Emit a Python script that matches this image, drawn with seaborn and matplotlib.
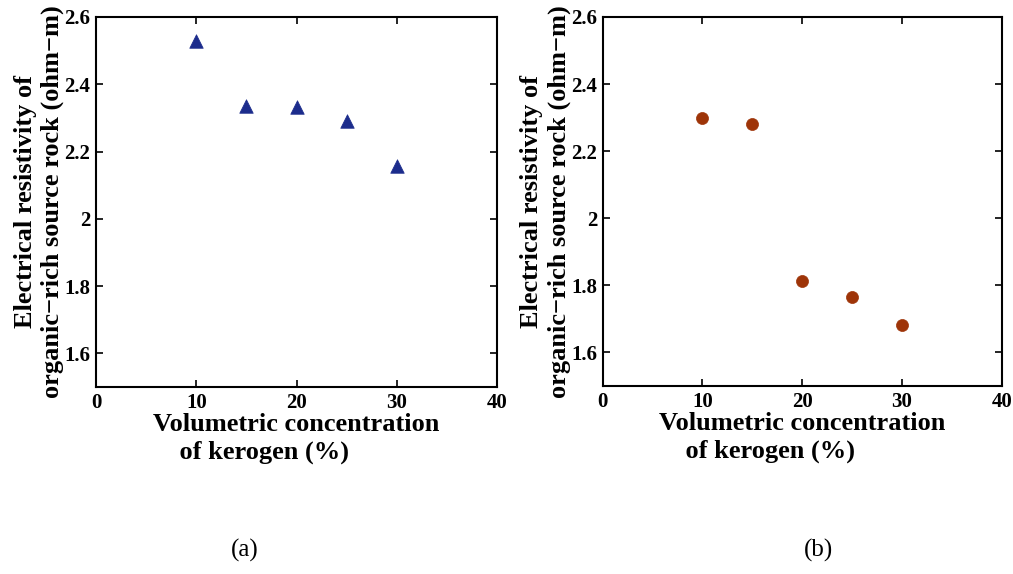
import matplotlib
matplotlib.use("Agg")
import matplotlib.pyplot as plt
import seaborn as sns
import pandas as pd

sns.set_style("white")
plt.rcParams["font.family"] = ["Liberation Serif", "DejaVu Serif"]
plt.rcParams["text.color"] = "black"
plt.rcParams["axes.labelcolor"] = "black"

# Kerogen volume fraction (%) and resistivity (ohm-m) for the two cases
kerogen_pct = [10, 15, 20, 25, 30]
resistivity_a = [2.529, 2.335, 2.331, 2.291, 2.157]
resistivity_b = [2.298, 2.281, 1.813, 1.765, 1.681]

x_ticks = [0, 10, 20, 30, 40]
y_ticks = [1.6, 1.8, 2.0, 2.2, 2.4, 2.6]
y_tick_labels = ["1.6", "1.8", "2", "2.2", "2.4", "2.6"]
panel_labels = ["(a)", "(b)"]
panel_label_x = [245, 818]

df_a = pd.DataFrame({"kerogen": kerogen_pct, "rho": resistivity_a})
df_b = pd.DataFrame({"kerogen": kerogen_pct, "rho": resistivity_b})

W, H = 1013, 574
fig = plt.figure(figsize=(W / 100, H / 100), dpi=100)
ax_a = fig.add_axes([0.0948, 0.3258, 0.3958, 0.6446])
ax_b = fig.add_axes([0.5950, 0.3275, 0.3938, 0.6429])

sns.scatterplot(data=df_a, x="kerogen", y="rho", ax=ax_a, marker="^",
                s=95, color="#1c2c8c", edgecolor="#1c2c8c", linewidth=0.5)
sns.scatterplot(data=df_b, x="kerogen", y="rho", ax=ax_b, marker="o",
                s=75, color="#9e3408", edgecolor="#9e3408", linewidth=0.5)

for ax, label, lx in zip([ax_a, ax_b], panel_labels, panel_label_x):
    ax.set_xlim(0, 40)
    ax.set_ylim(1.5, 2.6)
    ax.set_xticks(x_ticks)
    ax.set_xticklabels([str(t) for t in x_ticks], fontsize=15, fontweight="bold")
    ax.set_yticks(y_ticks)
    ax.set_yticklabels(y_tick_labels, fontsize=15, fontweight="bold")
    ax.tick_params(direction="in", length=5, width=1.2, top=True, right=True,
                   bottom=True, left=True, pad=4, colors="black")
    for sp in ax.spines.values():
        sp.set_visible(True)
        sp.set_color("black")
        sp.set_linewidth(1.5)
    ax.set_xlabel("Volumetric concentration\n    of kerogen (%)", fontsize=19,
                  fontweight="bold", multialignment="left", labelpad=0,
                  linespacing=1.3)
    ax.set_ylabel("Electrical resistivity of\norganic\u2212rich source rock (ohm\u2212m)",
                  fontsize=19, fontweight="bold", labelpad=0, linespacing=1.25)
    fig.text(lx / W, 1 - 550 / H, label, ha="center", va="center", fontsize=18)

fig.savefig("out.png", dpi=100, facecolor="white")
